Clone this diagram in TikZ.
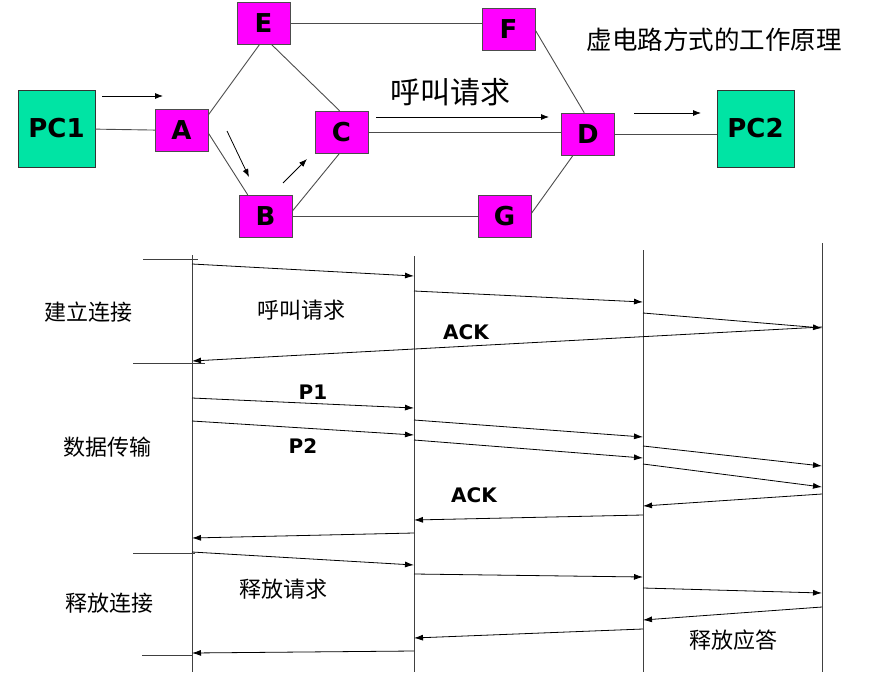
\documentclass[tikz,border=0pt]{standalone}
\usepackage{fontspec}
\setmainfont{DejaVu Sans}
\newfontfamily\cjk{Noto Sans CJK SC}
\usepackage{tikz}
\usetikzlibrary{arrows.meta, positioning, calc}
\definecolor{pc-green}{RGB}{0,228,164}
\definecolor{sw-magenta}{RGB}{255,0,255}

\begin{document}
\begin{tikzpicture}[
    x=1pt, y=-1pt,
    pc/.style={rectangle, draw=black!80, fill=pc-green, minimum width=77pt, minimum height=77pt, inner sep=0pt, font=\fontsize{26}{30}\selectfont\bfseries},
    sw/.style={rectangle, draw=black!70, fill=sw-magenta, minimum width=53pt, minimum height=42pt, inner sep=0pt, font=\fontsize{26}{30}\selectfont\bfseries},
    link/.style={draw=black!70, line width=0.9pt},
    flow/.style={-{Latex[length=8pt,width=6pt]}, line width=0.8pt},
    life/.style={draw=black!75, line width=1pt},
    msg/.style={-{Latex[length=9pt,width=6pt]}, line width=0.8pt},
    cn/.style={font=\cjk\fontsize{22}{26}\selectfont},
    tag/.style={font=\fontsize{20}{24}\selectfont\bfseries}
]
\useasboundingbox (0,0) rectangle (870,672);

% Netz oben
\node[pc] (pc1) at (56.5,128.5) {PC1};
\node[sw] (A) at (181.5,130.5) {A};
\node[sw] (E) at (263.5,23) {E};
\node[sw] (C) at (341.5,132) {C};
\node[sw] (B) at (265.5,216) {B};
\node[sw] (F) at (508.5,29) {F};
\node[sw] (D) at (588,134) {D};
\node[sw] (G) at (504.5,216) {G};
\node[pc] (pc2) at (755.5,128.5) {PC2};

\draw[link] (pc1) -- (A);
\draw[link] (A.30) -- (E.260);
\draw[link] (E.290) -- (C.95);
\draw[link] (A.-5) -- (B.130);
\draw[link] (B.10) -- (C.265);
\draw[link] (E.east) -- (E.east -| F.west);
\draw[link] (C.east) -- (C.east -| D.west);
\draw[link] (B) -- (G);
\draw[link] (F.-2) -- (D.100);
\draw[link] (G.5) -- (D.235);
\draw[link] (D.east) -- (D.east -| pc2.west);

% Richtung des Rufs
\draw[flow] (102,96) -- (163,96);
\draw[flow] (227,131) -- (249,177);
\draw[flow] (283,183) -- (307,159);
\draw[flow] (376,117) -- (549,117);
\draw[flow] (634,113) -- (701,113);

\node[font=\cjk\fontsize{30}{34}\selectfont] (call) at (450,92) {呼叫请求};
\node[font=\cjk\fontsize{25.5}{30}\selectfont] (title) at (714,40) {虚电路方式的工作原理};

% Zeitablauf unten
\coordinate (l1) at (192,255);
\coordinate (l2) at (414,256);
\coordinate (l3) at (643,250);
\coordinate (l4) at (822,243);
\foreach \i in {1,...,4}
    \draw[life] (l\i) -- (l\i |- 0,672);

\draw[life] (143,259) -- (198,259);
\draw[life] (133,363) -- (205,363);
\draw[life] (133,553) -- (195,553);
\draw[life] (142,655) -- (192,655);

\node[cn] (phase1) at (88,312) {建立连接};
\node[cn] (phase2) at (107.5,447) {数据传输};
\node[cn] (phase3) at (109,603) {释放连接};

\foreach \i/\ya/\j/\yb in {1/264/2/276, 2/291/3/302, 3/313/4/328, 4/327/1/361,
    1/398/2/408, 1/421/2/435, 2/420/3/437, 2/440/3/458, 3/446/4/466, 3/464/4/487,
    4/494/3/506, 3/515/2/520, 2/533/1/538,
    1/552/2/565, 2/574/3/577, 3/588/4/593, 4/607/3/620, 3/629/2/638, 2/651/1/653}
    \draw[msg] (l\i |- 0,\ya) -- (l\j |- 0,\yb);

\node[cn] (req) at (301,310) {呼叫请求};
\node[tag] (ack1) at (466,332) {ACK};
\node[tag] (p1) at (313,392) {P1};
\node[tag] (p2) at (303,446) {P2};
\node[tag] (ack2) at (474,495) {ACK};
\node[cn] (rel) at (283,589) {释放请求};
\node[cn] (relack) at (733,640) {释放应答};

\end{tikzpicture}
\end{document}
